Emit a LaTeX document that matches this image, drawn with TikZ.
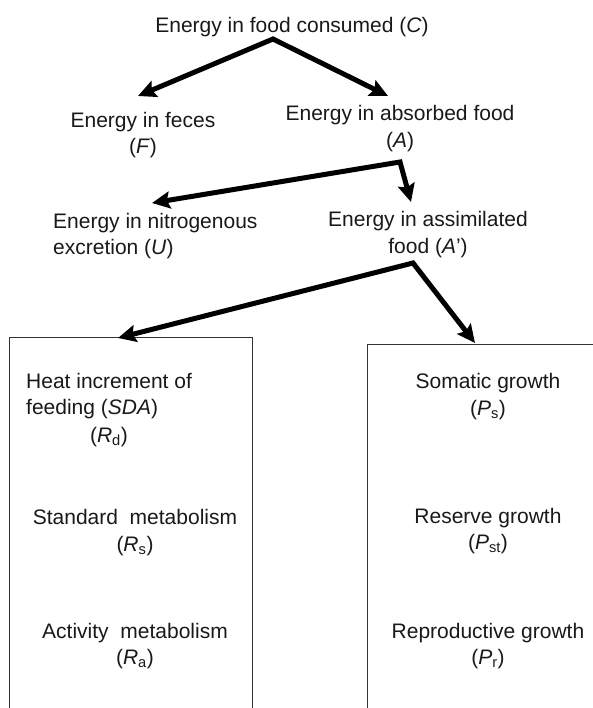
\documentclass[tikz,border=0pt]{standalone}
\usepackage{fontspec}
\setmainfont{Liberation Sans}
\usetikzlibrary{arrows.meta}
\begin{document}
\begin{tikzpicture}[x=1pt,y=-1pt,
  lbl/.style={inner sep=0pt,align=center,text=black!90,font=\fontsize{21}{26.5}\selectfont},
  lbll/.style={inner sep=0pt,align=left,text=black!90,font=\fontsize{21}{26}\selectfont},
  fork/.style={line width=5pt,line join=miter,
    {Stealth[length=18pt,width=17pt,inset=3pt]}-{Stealth[length=18pt,width=17pt,inset=3pt]}},
  boxside/.style={line width=0.9pt,draw=black!80}]
\useasboundingbox (0,0) rectangle (593,708);
% labels
\node[lbl] (C) at (292,27) {Energy in food consumed (\textit{C})};
\node[lbl] (F) at (143,135) {Energy in feces\\(\textit{F})};
\node[lbl] (A) at (400,128.5) {Energy in absorbed food\\(\textit{A})};
\node[lbll,anchor=west] (U) at (53,236.5) {Energy in nitrogenous\\excretion (\textit{U})};
\node[lbl] (Ap) at (428,234.5) {Energy in assimilated\\food (\textit{A}’)};
\node[lbll,anchor=west] (Rd1) at (26,396) {Heat increment of\\feeding (\textit{SDA})};
\node[lbl] (Rd) at (109,437) {(\textit{R}\textsubscript{d})};
\node[lbl] (Rs) at (135,532.5) {Standard~ metabolism\\(\textit{R}\textsubscript{s})};
\node[lbl] (Ra) at (135,646) {Activity~ metabolism\\(\textit{R}\textsubscript{a})};
\node[lbl] (Ps) at (488,396.5) {Somatic growth\\(\textit{P}\textsubscript{s})};
\node[lbl] (Pst) at (488,531) {Reserve growth\\(\textit{P}\textsubscript{st})};
\node[lbl] (Pr) at (488,646) {Reproductive growth\\(\textit{P}\textsubscript{r})};
% branch points and arrow ends
\coordinate (c0) at (273,39);
\coordinate (a0) at (400,162);
\coordinate (ap0) at (413,263);
\coordinate (Ftop) at (138,96);
\coordinate (Atop) at (388,96);
\coordinate (Uend) at (152,203);
\coordinate (Apend) at (411,202);
\coordinate (Lend) at (118,338);
\coordinate (Rend) at (475,343);
% boxes (open at the bottom)
\coordinate (L1) at (9,710); \coordinate (L2) at (9,337);
\coordinate (L3) at (252,337); \coordinate (L4) at (252,710);
\coordinate (R1) at (367,710); \coordinate (R2) at (367,344);
\coordinate (R3) at (600,344);
\draw[boxside] (L1) -- (L2) -- (L3) -- (L4);
\draw[boxside] (R1) -- (R2) -- (R3);
% arrows
\draw[fork] (Ftop) -- (c0) -- (Atop);
\draw[fork] (Uend) -- (a0) -- (Apend);
\draw[fork] (Lend) -- (ap0) -- (Rend);
\end{tikzpicture}
\end{document}
